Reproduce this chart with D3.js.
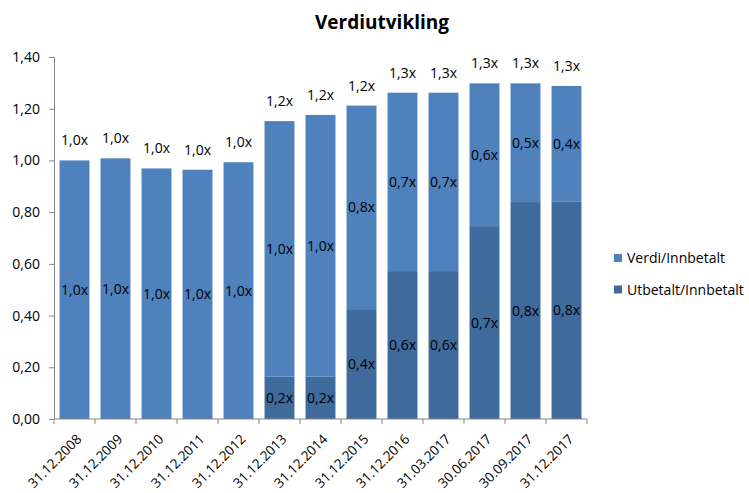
<!DOCTYPE html>
<html lang="no">
<head>
<meta charset="utf-8">
<title>Verdiutvikling</title>
<script src="https://d3js.org/d3.v7.min.js"></script>
<style>
body { margin: 0; background: #fff; }
text { font-family: "Open Sans", Lato, sans-serif; fill: #000; }
</style>
</head>
<body>
<script>
// categories and series
const dates = ["31.12.2008", "31.12.2009", "31.12.2010", "31.12.2011", "31.12.2012",
  "31.12.2013", "31.12.2014", "31.12.2015", "31.12.2016", "31.03.2017",
  "30.06.2017", "30.09.2017", "31.12.2017"];
const utbetalt = [0, 0, 0, 0, 0, 0.164, 0.164, 0.425, 0.572, 0.572, 0.746, 0.839, 0.840];
const verdi = [1.000, 1.008, 0.969, 0.964, 0.993, 0.988, 1.012, 0.787, 0.690, 0.690, 0.552, 0.459, 0.448];
const yTicks = [0, 0.2, 0.4, 0.6, 0.8, 1.0, 1.2, 1.4];
const seriesNames = ["Verdi/Innbetalt", "Utbetalt/Innbetalt"];

const w = 749, h = 493;
const colors = { top: "#4F81BD", bottom: "#3F6A9C" };
const axisColor = "#868686";
const fmt = v => d3.format(".1f")(v).replace(".", ",");

const svg = d3.select("body").append("svg")
  .attr("width", w).attr("height", h);

const x = d3.scaleBand()
  .domain(dates)
  .range([54, 587])
  .paddingInner(0.27)
  .paddingOuter(0.135);

const y = d3.scaleLinear()
  .domain([0, 1.4])
  .range([419, 57]);

// title
svg.append("text")
  .attr("x", 382).attr("y", 29)
  .attr("text-anchor", "middle")
  .style("font-size", "19px").style("font-weight", "bold")
  .text("Verdiutvikling");

// y axis
const yAxis = svg.append("g")
  .attr("transform", "translate(54,0)")
  .call(d3.axisLeft(y).tickValues(yTicks).tickSize(5).tickPadding(9)
    .tickFormat(d => d3.format(".2f")(d).replace(".", ",")));
yAxis.selectAll("text").style("font-size", "14px").style("font-family", "'Open Sans', sans-serif").attr("fill", "#000");
yAxis.select(".domain").attr("stroke", axisColor);
yAxis.selectAll(".tick line").attr("stroke", axisColor);

// bars
const rows = dates.map((d, i) => ({ date: d, u: utbetalt[i], v: verdi[i], t: utbetalt[i] + verdi[i] }));

const bars = svg.append("g");
bars.selectAll("rect.bottom").data(rows.filter(r => r.u > 0)).enter().append("rect")
  .attr("x", r => x(r.date)).attr("width", x.bandwidth())
  .attr("y", r => y(r.u)).attr("height", r => y(0) - y(r.u))
  .attr("fill", colors.bottom);
bars.selectAll("rect.top").data(rows).enter().append("rect")
  .attr("x", r => x(r.date)).attr("width", x.bandwidth())
  .attr("y", r => y(r.t)).attr("height", r => y(r.u) - y(r.t))
  .attr("fill", colors.top);

// segment labels
const labels = svg.append("g").style("font-size", "14px").attr("text-anchor", "middle");
labels.selectAll("text.u").data(rows.filter(r => r.u > 0)).enter().append("text")
  .attr("x", r => x(r.date) + x.bandwidth() / 2)
  .attr("y", r => y(r.u / 2) + 5)
  .text(r => fmt(r.u) + "x");
labels.selectAll("text.v").data(rows).enter().append("text")
  .attr("x", r => x(r.date) + x.bandwidth() / 2)
  .attr("y", r => y(r.u + r.v / 2) + 5)
  .text(r => fmt(r.v) + "x");
labels.selectAll("text.t").data(rows).enter().append("text")
  .attr("x", r => x(r.date) + x.bandwidth() / 2)
  .attr("y", r => y(r.t) - 15)
  .text(r => fmt(r.t) + "x");

// x axis
const xAxis = svg.append("g").attr("transform", "translate(0,419)");
xAxis.append("line").attr("x1", 54).attr("x2", 587).attr("stroke", axisColor);
xAxis.selectAll("line.tick").data(d3.range(dates.length + 1)).enter().append("line")
  .attr("x1", i => 54 + i * x.step()).attr("x2", i => 54 + i * x.step())
  .attr("y1", 0).attr("y2", 5).attr("stroke", axisColor);
xAxis.selectAll("text").data(dates).enter().append("text")
  .attr("transform", d => `translate(${x(d) + x.bandwidth() / 2 + 8},21) rotate(-45)`)
  .attr("text-anchor", "end")
  .style("font-size", "13.5px")
  .text(d => d);

// legend
const legend = svg.append("g");
const legendColors = [colors.top, colors.bottom];
seriesNames.forEach((name, i) => {
  const ly = 258 + i * 31.5;
  legend.append("rect").attr("x", 614).attr("y", ly - 4).attr("width", 8).attr("height", 8)
    .attr("fill", legendColors[i]);
  legend.append("text").attr("x", 627).attr("y", ly + 5)
    .style("font-size", "14px").text(name);
});
</script>
</body>
</html>
